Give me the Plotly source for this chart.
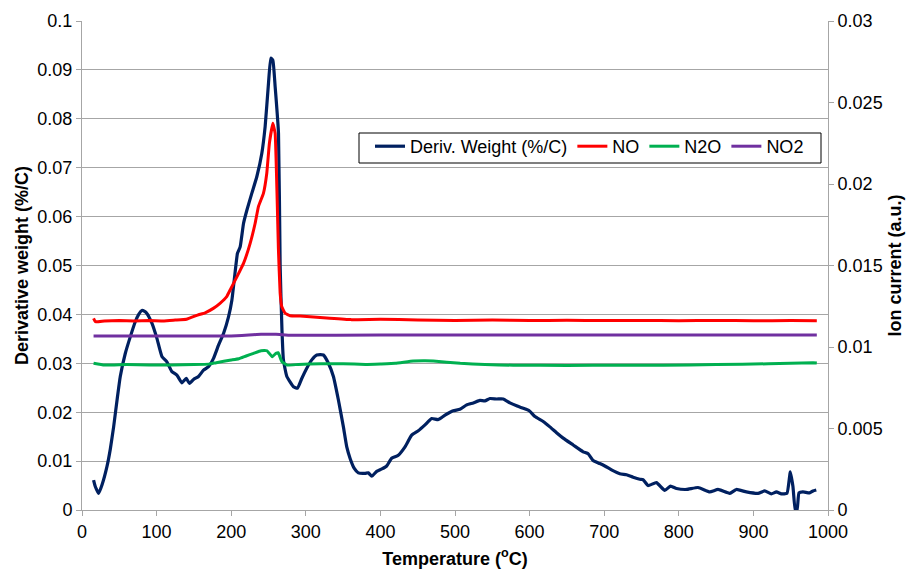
import plotly.graph_objects as go

# Derivative weight (%/C) versus temperature (°C)
dtg_temp = [15.5, 17.8, 22.3, 27, 33.5, 38, 42.4, 47, 51.3, 58, 64.7, 71.4, 76, 80.3, 84, 87,
            93.7, 100.4, 107.1, 113.8, 120.5, 127.2, 133.9, 139.7, 144.1, 149.5, 156.2, 162.9,
            169.6, 176.3, 183, 189.7, 196.4, 200.9, 205.3, 208.4, 212, 216.5, 221, 227.7, 234.4,
            241, 245.5, 250, 253.1, 255.8, 258.9, 263.4, 265.6, 268, 270, 274.6, 283.4, 288.8,
            294.6, 301.3, 308, 314.7, 323.6, 330.3, 337, 343.7, 350.4, 354.9, 359.5, 365, 370.4,
            379.4, 383.8, 388.4, 395, 402, 408.4, 415.1, 424, 433, 441.9, 450.8, 459.8, 468.7,
            477.6, 486.6, 497.7, 506.6, 515.6, 524.5, 533.4, 540, 546.8, 555.8, 564.7, 573.6,
            582.6, 591.5, 599.5, 607.1, 618.2, 627.2, 636.1, 645, 658.4, 671.8, 678.5, 685.2,
            694.1, 700.8, 709.8, 720.9, 729.9, 738.8, 747.7, 752, 758.8, 770, 781.2, 788.8,
            796.9, 810.3, 825.8, 841.5, 852.6, 868.3, 877.2, 890.6, 906.2, 915.1, 924.1, 930.8,
            937.5, 945, 949.5, 953, 956.2, 958.5, 961.1, 966.4, 975.3, 979.8, 984.3]
dtg_value = [0.0061, 0.0048, 0.0034, 0.0052, 0.0089, 0.0125, 0.0170, 0.0225, 0.0273, 0.0320,
             0.0354, 0.0385, 0.0400, 0.0408, 0.0406, 0.0402, 0.0382, 0.0351, 0.0314, 0.0303,
             0.0283, 0.0276, 0.0260, 0.0269, 0.0259, 0.0267, 0.0273, 0.0286, 0.0293, 0.0310,
             0.0337, 0.0361, 0.0395, 0.0429, 0.0487, 0.0525, 0.0538, 0.0586, 0.0613, 0.0648,
             0.0682, 0.0729, 0.0784, 0.0873, 0.0924, 0.0920, 0.0866, 0.0770, 0.0500, 0.0370,
             0.0307, 0.0273, 0.0252, 0.0249, 0.0269, 0.0290, 0.0307, 0.0317, 0.0317, 0.0300,
             0.0273, 0.0225, 0.0170, 0.0129, 0.0105, 0.0085, 0.0076, 0.0075, 0.0076, 0.0069,
             0.0079, 0.0084, 0.0090, 0.0106, 0.0112, 0.0129, 0.0153, 0.0162, 0.0174, 0.0187,
             0.0185, 0.0194, 0.0203, 0.0206, 0.0215, 0.0219, 0.0224, 0.0223, 0.0228, 0.0227,
             0.0227, 0.0219, 0.0213, 0.0208, 0.0203, 0.0191, 0.0181, 0.0170, 0.0158, 0.0147,
             0.0133, 0.0119, 0.0115, 0.0101, 0.0095, 0.0090, 0.0082, 0.0074, 0.0072, 0.0067,
             0.0063, 0.0062, 0.0050, 0.0056, 0.0040, 0.0049, 0.0044, 0.0042, 0.0046, 0.0037,
             0.0042, 0.0034, 0.0042, 0.0037, 0.0034, 0.0039, 0.0033, 0.0037, 0.0033, 0.0034,
             0.0078, 0.0048, 0.0000, 0.0000, 0.0035, 0.0037, 0.0035, 0.0039, 0.0041]

# Ion currents (a.u.) from the mass spectrometer
no_temp = [15.5, 18, 30, 50, 70, 90, 110, 125, 140, 155, 165, 176, 185, 194, 198.6, 207.6,
           216.5, 225.4, 232.1, 236.5, 243.2, 247.7, 251.2, 255.8, 258.9, 263.3, 265.6, 267.8,
           272.3, 279, 292.4, 328, 360, 400, 450, 500, 550, 600, 650, 700, 750, 800, 850, 900,
           950, 985]
no_value = [0.01176, 0.01155, 0.01160, 0.01162, 0.01160, 0.01162, 0.01160, 0.01165, 0.01170,
            0.01196, 0.01210, 0.01237, 0.01268, 0.01309, 0.01350, 0.01430, 0.01513, 0.01636,
            0.01759, 0.01861, 0.01943, 0.02066, 0.02250, 0.02372, 0.02311, 0.01600, 0.01330,
            0.01247, 0.01207, 0.01192, 0.01190, 0.01178, 0.01168, 0.01170, 0.01166, 0.01163,
            0.01165, 0.01162, 0.01164, 0.01162, 0.01163, 0.01161, 0.01163, 0.01161, 0.01162,
            0.01161]

n2o_temp = [15.5, 30, 60, 90, 120, 150, 170, 180, 200, 210, 220, 230, 240, 248, 255, 260, 263,
            268, 275, 290, 320, 350, 380, 400, 420, 444, 460, 471, 507, 540, 578, 650, 720, 779,
            850, 920, 980, 985]
n2o_value = [0.00900, 0.00889, 0.00892, 0.00889, 0.00890, 0.00892, 0.00895, 0.00904, 0.00920,
             0.00928, 0.00945, 0.00961, 0.00977, 0.00977, 0.00940, 0.00961, 0.00965, 0.00910,
             0.00889, 0.00893, 0.00897, 0.00897, 0.00893, 0.00896, 0.00900, 0.00914, 0.00916,
             0.00914, 0.00900, 0.00893, 0.00888, 0.00887, 0.00888, 0.00888, 0.00892, 0.00897,
             0.00904, 0.00902]

no2_temp = [15.5, 100, 200, 240, 260, 280, 400, 600, 800, 985]
no2_value = [0.01067, 0.01067, 0.01068, 0.01078, 0.01078, 0.01072, 0.01073, 0.01073, 0.01073,
             0.01073]

x_ticks = [0, 100, 200, 300, 400, 500, 600, 700, 800, 900, 1000]
y1_ticks = [0, 0.01, 0.02, 0.03, 0.04, 0.05, 0.06, 0.07, 0.08, 0.09, 0.1]
y1_labels = ["0", "0.01", "0.02", "0.03", "0.04", "0.05", "0.06", "0.07", "0.08", "0.09", "0.1"]
y2_ticks = [0, 0.005, 0.01, 0.015, 0.02, 0.025, 0.03]
y2_labels = ["0", "0.005", "0.01", "0.015", "0.02", "0.025", "0.03"]

FONT = "Liberation Sans, Arial, sans-serif"
GRID = "#A6A6A6"

fig = go.Figure()
fig.add_trace(go.Scatter(x=dtg_temp, y=dtg_value, mode="lines", name="Deriv. Weight (%/C)",
                         line=dict(color="#002060", width=3.2, shape="spline", smoothing=0.4)))
fig.add_trace(go.Scatter(x=no_temp, y=no_value, mode="lines", name="NO", yaxis="y2",
                         line=dict(color="#FF0000", width=3, shape="spline", smoothing=0.3)))
fig.add_trace(go.Scatter(x=n2o_temp, y=n2o_value, mode="lines", name="N2O", yaxis="y2",
                         line=dict(color="#00B050", width=3, shape="spline", smoothing=0.3)))
fig.add_trace(go.Scatter(x=no2_temp, y=no2_value, mode="lines", name="NO2", yaxis="y2",
                         line=dict(color="#7030A0", width=3, shape="spline", smoothing=0.3)))

# Legend frame drawn as a shape so its size can be set independently of the entries
fig.add_shape(type="rect", xref="paper", yref="paper",
              x0=(359 - 82) / 746, x1=(821 - 82) / 746,
              y0=(510 - 163) / 489, y1=(510 - 133) / 489,
              line=dict(color="black", width=1), fillcolor="white", layer="above")

fig.update_layout(
    width=912, height=569,
    margin=dict(l=82, r=84, t=21, b=59),
    paper_bgcolor="white", plot_bgcolor="white",
    font=dict(family=FONT, size=18, color="black"),
    showlegend=True,
    legend=dict(orientation="h", x=(370 - 82) / 746, y=(510 - 128) / 489,
                xanchor="left", yanchor="top",
                bgcolor="rgba(0,0,0,0)", borderwidth=0,
                font=dict(size=18), itemwidth=30, tracegroupgap=0),
    xaxis=dict(range=[0, 1000], tickvals=x_ticks, showgrid=False, zeroline=False,
               showline=True, linecolor=GRID, linewidth=1, ticks="outside", ticklen=5,
               tickcolor=GRID, automargin=False,
               title=dict(text="<b>Temperature (<sup>o</sup>C)</b>", standoff=13,
                          font=dict(size=18))),
    yaxis=dict(range=[0, 0.1], tickvals=y1_ticks, ticktext=y1_labels, showgrid=True,
               gridcolor=GRID, gridwidth=1, zeroline=False, showline=True, linecolor=GRID,
               ticks="outside", ticklen=5, tickcolor=GRID, automargin=False,
               title=dict(text="<b>Derivative weight (%/C)</b>", standoff=4,
                          font=dict(size=18))),
    yaxis2=dict(range=[0, 0.03], tickvals=y2_ticks, ticktext=y2_labels, overlaying="y",
                side="right", showgrid=False, zeroline=False, showline=True, linecolor=GRID,
                ticks="outside", ticklen=5, tickcolor=GRID, automargin=False,
                title=dict(text="<b>Ion current (a.u.)</b>", standoff=6,
                           font=dict(size=18))),
)

fig.write_html("out.html")
